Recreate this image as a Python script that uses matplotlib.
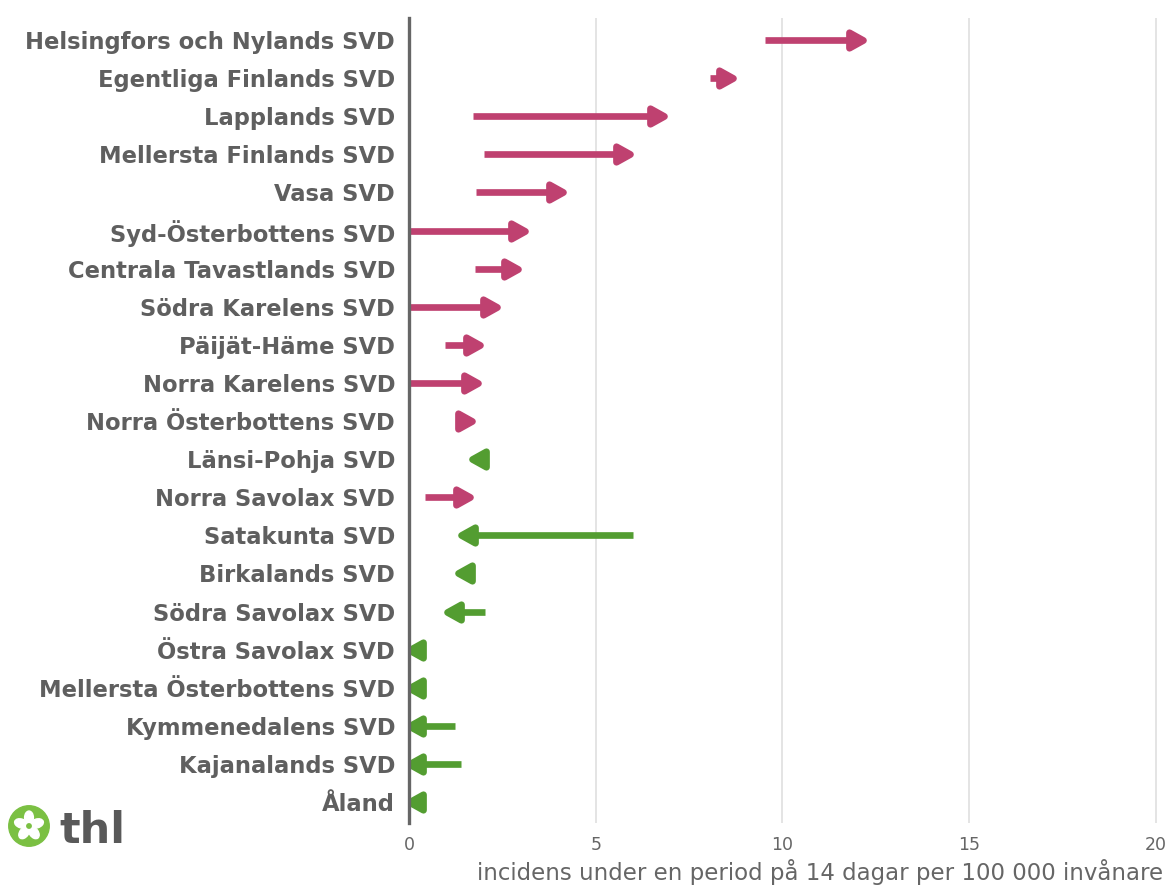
import matplotlib
matplotlib.use('Agg')
import matplotlib.pyplot as plt
from matplotlib.patches import Circle, Ellipse
from matplotlib.markers import MarkerStyle
from matplotlib.path import Path
import numpy as np

regions = [
    "Helsingfors och Nylands SVD", "Egentliga Finlands SVD", "Lapplands SVD",
    "Mellersta Finlands SVD", "Vasa SVD", "Syd-Österbottens SVD",
    "Centrala Tavastlands SVD", "Södra Karelens SVD", "Päijät-Häme SVD",
    "Norra Karelens SVD", "Norra Österbottens SVD", "Länsi-Pohja SVD",
    "Norra Savolax SVD", "Satakunta SVD", "Birkalands SVD", "Södra Savolax SVD",
    "Östra Savolax SVD", "Mellersta Österbottens SVD", "Kymmenedalens SVD",
    "Kajanalands SVD", "Åland",
]
previous = [9.53, 8.05, 1.72, 2.0, 1.8, 0.0, 1.77, 0.0, 0.96, 0.0, 1.4, 2.05,
            0.42, 6.0, 1.72, 2.03, 0.4, 0.4, 1.22, 1.39, 0.4]
current = [12.16, 8.68, 6.83, 5.92, 4.13, 3.1, 2.93, 2.35, 1.9, 1.84, 1.7, 1.68,
           1.63, 1.39, 1.32, 1.03, 0.0, 0.0, 0.0, 0.0, 0.0]
xticks = [0, 5, 10, 15, 20]
xlabel = "incidens under en period på 14 dagar per 100 000 invånare"

W, H = 1169, 885
PINK = '#BF4170'
GREEN = '#539D31'
TEXT = '#5F5F5F'

fig = plt.figure(figsize=(W / 100, H / 100), dpi=100)
ax = fig.add_axes([409 / W, 62 / H, 754 / W, 805 / H])

# arrow heads as markers whose tip sits at the data point
hw = 0.555
head_right = MarkerStyle(Path([(0, 0), (-1, hw), (-1, -hw), (0, 0)],
                              [Path.MOVETO, Path.LINETO, Path.LINETO, Path.CLOSEPOLY]),
                         joinstyle='round')
head_left = MarkerStyle(Path([(0, 0), (1, hw), (1, -hw), (0, 0)],
                             [Path.MOVETO, Path.LINETO, Path.LINETO, Path.CLOSEPOLY]),
                        joinstyle='round')

for i, (s, e) in enumerate(zip(previous, current)):
    up = e > s
    c = PINK if up else GREEN
    ax.plot([s, e], [i, i], color=c, lw=4.8, solid_capstyle='butt', zorder=3)
    ax.plot([e], [i], linestyle='none', marker=head_right if up else head_left,
            markersize=20.2, markerfacecolor=c, markeredgecolor=c,
            markeredgewidth=4.8, zorder=3.1)

ax.set_xlim(0, 20.19)
ax.set_ylim(len(regions) - 0.45, -0.58)
ax.set_yticks(range(len(regions)))
ax.set_yticklabels(regions, fontsize=16.3, fontweight='bold', color=TEXT)
ax.set_xticks(xticks)
ax.set_xticklabels([str(t) for t in xticks], fontsize=12.5, color='#666666')
ax.tick_params(axis='y', length=0, pad=10)
ax.tick_params(axis='x', length=0, pad=9)
ax.grid(axis='x', color='#DCDCDC', lw=1.1, zorder=0)
ax.set_axisbelow(True)
for sp in ['top', 'right', 'bottom']:
    ax.spines[sp].set_visible(False)
ax.spines['left'].set_color('#666666')
ax.spines['left'].set_linewidth(2.4)
ax.spines['left'].set_zorder(5)
ax.set_xlabel(xlabel, loc='right', fontsize=16.5, color='#666666', labelpad=4)

# thl logo
lax = fig.add_axes([7 / W, (885 - 848) / H, 44 / W, 44 / H])
lax.set_xlim(-1, 1)
lax.set_ylim(-1, 1)
lax.set_aspect('equal')
lax.axis('off')
lax.add_patch(Circle((0, 0), 0.92, color='#7BC043'))
for k in range(5):
    ang = np.deg2rad(90 + 72 * k)
    lax.add_patch(Ellipse((0.38 * np.cos(ang), 0.38 * np.sin(ang)), 0.6, 0.4,
                          angle=np.rad2deg(ang), color='white'))
lax.add_patch(Circle((0, 0), 0.1, color='#7BC043'))
fig.text(59 / W, (885 - 843) / H, 'thl', fontsize=31, fontweight='bold',
         color='#595959', va='baseline', ha='left')

fig.savefig('out.png', dpi=100)
